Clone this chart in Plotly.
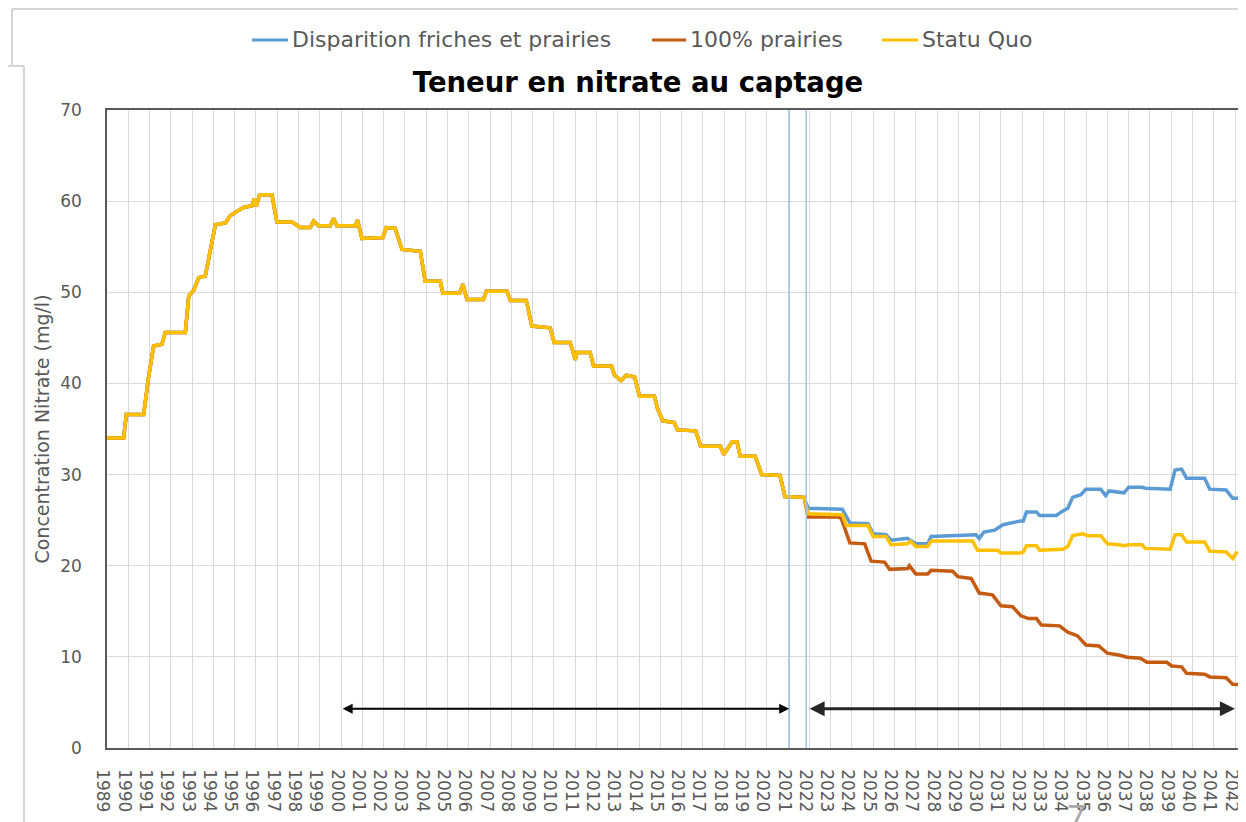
import plotly.graph_objects as go

# ---------------- data ----------------
hist_years = [1989.00, 1989.78, 1989.91, 1990.72, 1990.96, 1991.19, 1991.58, 1991.74, 1992.68, 1992.84,
              1993.07, 1993.31, 1993.62, 1993.85, 1994.09, 1994.56, 1994.79, 1995.11, 1995.42, 1995.81,
              1995.92, 1996.01, 1996.17, 1996.75, 1996.98, 1997.69, 1998.08, 1998.55, 1998.71, 1998.94,
              1999.49, 1999.65, 1999.80, 2000.66, 2000.77, 2000.98, 2001.96, 2002.12, 2002.54, 2002.86,
              2003.72, 2003.95, 2004.66, 2004.78, 2005.57, 2005.72, 2005.91, 2006.69, 2006.82, 2007.79,
              2007.95, 2008.70, 2008.96, 2009.82, 2010.01, 2010.76, 2011.00, 2011.08, 2011.70, 2011.86,
              2012.70, 2012.85, 2013.16, 2013.40, 2013.79, 2014.02, 2014.72, 2014.87, 2015.11, 2015.65,
              2015.80, 2016.66, 2016.89, 2017.82, 2017.98, 2018.37, 2018.60, 2018.75, 2019.45, 2019.76,
              2020.62, 2020.85, 2021.75]
hist_values = [34.0, 34.0, 36.6, 36.6, 40.8, 44.1, 44.3, 45.6, 45.6, 49.6,
               50.2, 51.6, 51.8, 54.7, 57.4, 57.6, 58.4, 58.9, 59.3, 59.5,
               60.3, 59.4, 60.7, 60.7, 57.7, 57.7, 57.1, 57.1, 57.8, 57.3,
               57.3, 58.1, 57.3, 57.3, 57.9, 55.9, 56.0, 57.1, 57.0, 54.7,
               54.5, 51.2, 51.2, 49.9, 49.9, 50.9, 49.2, 49.2, 50.1, 50.1,
               49.1, 49.1, 46.3, 46.1, 44.5, 44.5, 42.6, 43.4, 43.4, 41.9,
               41.9, 40.9, 40.3, 40.9, 40.7, 38.6, 38.6, 37.2, 35.9, 35.7,
               34.9, 34.8, 33.1, 33.1, 32.2, 33.6, 33.6, 32.0, 32.0, 30.0,
               29.9, 27.6, 27.5]

friches_years = [2021.94, 2023.55, 2023.90, 2024.75, 2025.00, 2025.60, 2025.84, 2026.60, 2027.00, 2027.56,
                 2027.72, 2028.66, 2028.97, 2029.83, 2029.98, 2030.20, 2030.70, 2031.10, 2031.90, 2032.05,
                 2032.20, 2032.67, 2032.82, 2033.60, 2033.83, 2034.14, 2034.37, 2034.76, 2034.99, 2035.69,
                 2035.92, 2036.08, 2036.78, 2037.00, 2037.63, 2037.78, 2038.95, 2039.18, 2039.49, 2039.72,
                 2040.57, 2040.81, 2041.58, 2041.89, 2042.51]
friches_values = [26.3, 26.2, 24.7, 24.6, 23.5, 23.4, 22.8, 23.0, 22.4, 22.4,
                  23.2, 23.3, 23.4, 23.4, 23.0, 23.7, 23.9, 24.5, 24.9, 24.9,
                  25.9, 25.9, 25.5, 25.5, 25.9, 26.3, 27.5, 27.8, 28.4, 28.4,
                  27.7, 28.2, 28.0, 28.6, 28.6, 28.5, 28.4, 30.5, 30.6, 29.6,
                  29.6, 28.4, 28.3, 27.4, 27.4]

prairies_years = [2021.94, 2023.34, 2023.50, 2023.90, 2024.60, 2024.90, 2025.53, 2025.77, 2026.63, 2026.70,
                  2027.00, 2027.56, 2027.72, 2028.73, 2028.97, 2029.60, 2029.98, 2030.60, 2031.00, 2031.55,
                  2031.94, 2032.30, 2032.67, 2032.90, 2033.75, 2034.14, 2034.60, 2034.99, 2035.60, 2036.00,
                  2036.54, 2036.93, 2037.55, 2037.86, 2038.79, 2039.02, 2039.49, 2039.72, 2040.57, 2040.81,
                  2041.58, 2041.89, 2042.51]
prairies_values = [25.35, 25.35, 25.2, 22.5, 22.4, 20.5, 20.4, 19.6, 19.7, 20.0,
                   19.1, 19.1, 19.5, 19.4, 18.8, 18.6, 17.0, 16.8, 15.6, 15.5,
                   14.5, 14.2, 14.2, 13.5, 13.4, 12.7, 12.3, 11.3, 11.2, 10.4,
                   10.2, 9.96, 9.85, 9.4, 9.4, 9.0, 8.9, 8.2, 8.1, 7.8,
                   7.7, 7.0, 6.9]

statu_quo_years = [2021.94, 2023.55, 2023.73, 2024.75, 2025.00, 2025.60, 2025.84, 2026.60, 2026.75, 2027.00,
                   2027.56, 2027.72, 2029.67, 2029.90, 2030.84, 2031.00, 2031.90, 2032.05, 2032.20, 2032.67,
                   2032.82, 2033.90, 2034.14, 2034.37, 2034.84, 2035.07, 2035.69, 2036.00, 2036.54, 2036.78,
                   2037.00, 2037.63, 2037.78, 2038.95, 2039.18, 2039.49, 2039.72, 2040.57, 2040.81, 2041.58,
                   2041.89, 2042.05, 2042.51]
statu_quo_values = [25.7, 25.6, 24.4, 24.4, 23.2, 23.2, 22.3, 22.4, 22.7, 22.1,
                    22.1, 22.7, 22.7, 21.7, 21.7, 21.4, 21.4, 21.5, 22.2, 22.2,
                    21.7, 21.8, 22.1, 23.3, 23.5, 23.3, 23.3, 22.4, 22.3, 22.2,
                    22.3, 22.3, 21.9, 21.8, 23.4, 23.4, 22.6, 22.6, 21.6, 21.5,
                    20.8, 21.4, 21.4]

series_names = ["Disparition friches et prairies", "100% prairies", "Statu Quo"]
series_colors = ["#5B9BD5", "#C55A11", "#FFC000"]

tick_years = list(range(1989, 2043))
tick_labels = [str(y) for y in tick_years]

marker_years = [2021.05, 2021.85]          # the two light-blue vertical lines
period_starts = [2000.0, 2021.94]           # double arrows
period_ends = [2021.05, 2041.99]
arrow_level = 4.3

# ---------------- figure ----------------
# the page body has an 8px margin: the figure is drawn 8px right / 8px down
OFF = 8
W, H = 1246 - OFF, 822 - OFF
ML, MR, MT, MB = 99, 0, 102, 74
PW, PH = W - ML - MR, H - MT - MB


def px_x(sx):
    """screen x pixel -> paper x"""
    return (sx - OFF - ML) / PW


def px_y(sy):
    """screen y pixel -> paper y"""
    return (H - MB - (sy - OFF)) / PH


FONT = "DejaVu Sans"
GREY = "#595959"

fig = go.Figure()
all_series = [
    (friches_years, friches_values),
    (prairies_years, prairies_values),
    (statu_quo_years, statu_quo_values),
]
for (yrs, vals), name, col in zip(all_series, series_names, series_colors):
    fig.add_trace(go.Scatter(
        x=hist_years + yrs, y=hist_values + vals, mode="lines", name=name,
        line=dict(color=col, width=3.5), showlegend=False,
    ))

shapes = []
for my in marker_years:
    shapes.append(dict(type="line", xref="x", yref="y", x0=my, x1=my, y0=-0.3, y1=70,
                       line=dict(color="#9DC3E6", width=1.5), layer="above"))

# manual legend (screen pixel positions)
legend_pos = [(252, 288, 290), (652, 686, 688), (882, 918, 920)]
annotations = []
for (x0, x1, xt), name, col in zip(legend_pos, series_names, series_colors):
    shapes.append(dict(type="line", xref="paper", yref="paper", x0=px_x(x0), x1=px_x(x1),
                       y0=px_y(40), y1=px_y(40), line=dict(color=col, width=3)))
    annotations.append(dict(text=name, xref="paper", yref="paper", x=px_x(xt), y=px_y(40),
                            xanchor="left", yanchor="middle", showarrow=False,
                            font=dict(family=FONT, size=22, color=GREY)))

# window/frame border artifacts
border = "#D6D6D6"
for (ax0, ay0, ax1, ay1) in [(12, 9, 1246, 9), (12, 9, 12, 66), (8, 66, 24, 66), (24, 66, 24, 822)]:
    shapes.append(dict(type="line", xref="paper", yref="paper", x0=px_x(ax0), x1=px_x(ax1),
                       y0=px_y(ay0), y1=px_y(ay1), line=dict(color=border, width=2)))

# double arrows
arrow_styles = [dict(color="#000000", width=2), dict(color="#262626", width=3)]
for s, e, st in zip(period_starts, period_ends, arrow_styles):
    annotations.append(dict(x=e, y=arrow_level, ax=s, ay=arrow_level, xref="x", yref="y",
                            axref="x", ayref="y", text="", showarrow=True,
                            arrowhead=2, startarrowhead=2, arrowside="end+start",
                            arrowsize=1, startarrowsize=1,
                            arrowwidth=st["width"], arrowcolor=st["color"]))
annotations.append(dict(x=2042.51, y=arrow_level, ax=2042.26, ay=arrow_level, xref="x", yref="y",
                        axref="x", ayref="y", text="", showarrow=True,
                        arrowhead=0, startarrowhead=2, arrowside="start", startarrowsize=1,
                        arrowwidth=3, arrowcolor="#262626"))

# stray page-number artifact at the bottom
annotations.append(dict(text="7", xref="paper", yref="paper", x=px_x(1076), y=px_y(795),
                        xanchor="center", yanchor="top", showarrow=False,
                        font=dict(family="Lato", size=32, color="#A8A8A8")))

fig.update_layout(
    width=W, height=H,
    margin=dict(l=ML, r=MR, t=MT, b=MB, pad=0),
    paper_bgcolor="white", plot_bgcolor="white",
    showlegend=False,
    title=dict(text="<b>Teneur en nitrate au captage</b>", xref="container", yref="container",
               x=(638 - OFF) / W, y=1 - (82 - OFF) / H, xanchor="center", yanchor="middle",
               font=dict(family=FONT, size=27.5, color="#000000")),
    shapes=shapes,
    annotations=annotations,
    xaxis=dict(range=[1989, 1989 + (1246 - 106.7) / 21.29], tickmode="array",
               tickvals=tick_years, ticktext=tick_labels, tickangle=90,
               tickfont=dict(family=FONT, size=17, color=GREY),
               showgrid=True, gridcolor="#D9D9D9", gridwidth=1,
               showline=True, linecolor=GREY, linewidth=1.5, mirror=True,
               ticks="", ticklabelstandoff=16, ticklabelshift=-4, zeroline=False),
    yaxis=dict(range=[0, 70], dtick=10, tick0=0,
               tickfont=dict(family=FONT, size=17, color=GREY),
               showgrid=True, gridcolor="#D9D9D9", gridwidth=1,
               showline=True, linecolor=GREY, linewidth=1.5, mirror=False,
               ticks="", ticklabelstandoff=20, zeroline=False,
               title=dict(text="Concentration Nitrate (mg/l)", standoff=6,
                          font=dict(family=FONT, size=19, color=GREY))),
)

fig.write_html("out.html")
